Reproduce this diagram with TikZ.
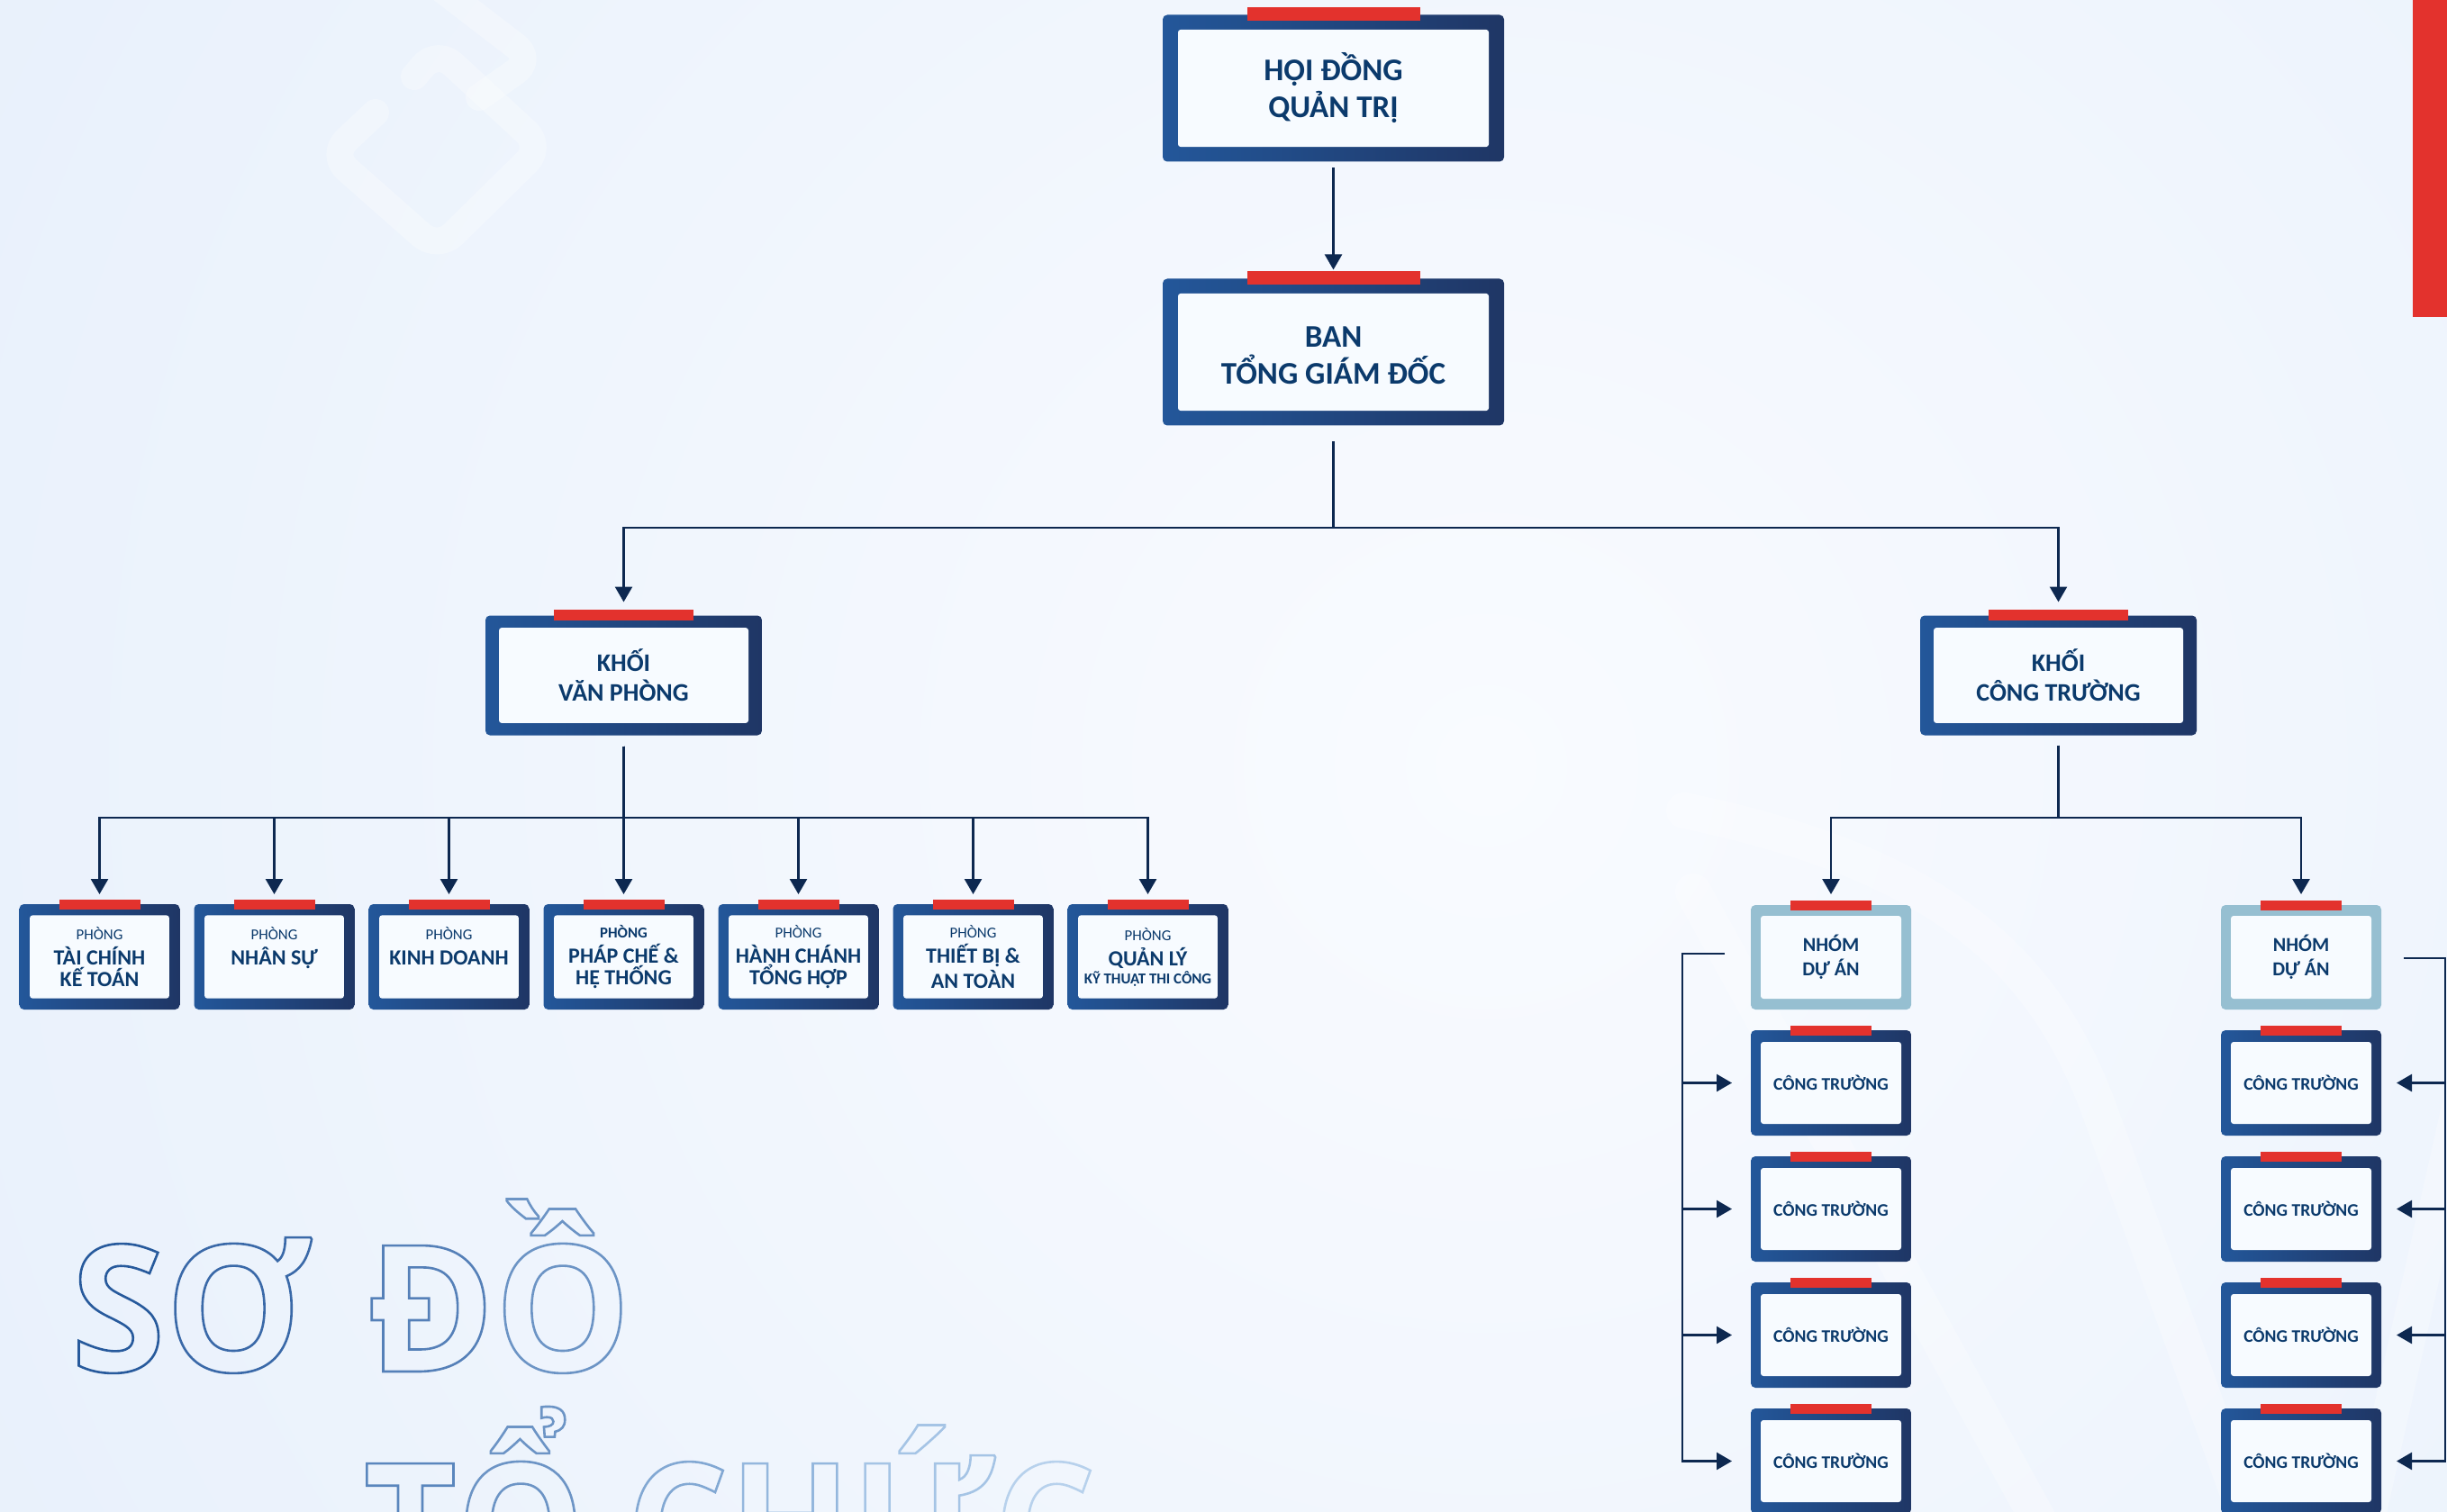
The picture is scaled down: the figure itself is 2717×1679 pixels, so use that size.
\documentclass[tikz,border=0pt]{standalone}
\usepackage{fontspec}
\setmainfont{Carlito}
\newfontfamily\wmfont{Open Sans}[FakeStretch=0.97]
\newfontfamily\wmfontn{Open Sans}[FakeStretch=0.91]
\usetikzlibrary{arrows.meta,positioning,calc}

\definecolor{navy}{HTML}{0B3A6C}
\definecolor{wirec}{HTML}{0D2850}
\definecolor{frameL}{HTML}{23579A}
\definecolor{frameR}{HTML}{1F3665}
\definecolor{frameLt}{HTML}{96BFD1}
\definecolor{panelw}{HTML}{F7FBFF}
\definecolor{barred}{HTML}{E3322D}
\definecolor{bgin}{HTML}{F9FBFF}
\definecolor{bgout}{HTML}{D9E7F8}
\definecolor{wmA}{HTML}{275A9C}
\definecolor{wmB}{HTML}{3A69A8}
\definecolor{wmC}{HTML}{5580B8}
\definecolor{wmD}{HTML}{6C94C5}
\definecolor{wmE}{HTML}{5A86BD}
\definecolor{wmF}{HTML}{6C94C5}
\definecolor{wmG}{HTML}{82A8D3}
\definecolor{wmH}{HTML}{94B7DD}
\definecolor{wmI}{HTML}{A5C4E5}
\definecolor{wmJ}{HTML}{B7D1EC}

\newcommand\phong{{\fontsize{4.2pt}{5pt}\selectfont\mdseries PHÒNG}}
\newcommand\outl[1]{\special{pdf:code 1 Tr 0.65 w}#1\special{pdf:code 0 Tr}}
\newcommand\redbar[4]{\fill[barred] ([xshift=-#2/2, yshift=#3]#1.north) rectangle ([xshift=#2/2, yshift=#3-#4]#1.north);}

\tikzset{
  line/.style  = {-{Triangle[length=4.25pt,width=4.75pt]}, line width=0.65pt, draw=wirec},
  glow/.style  = {draw=white, opacity=0.28, line cap=round, line join=round},
  panel/.style 2 args = {path picture={
      \fill[panelw, rounded corners=0.75pt]
        ([shift={(#1,-#2)}]path picture bounding box.north west) rectangle
        ([shift={(-#1,#2)}]path picture bounding box.south east);}},
  frame/.style   = {rounded corners=1.25pt, inner sep=0pt, outer sep=0pt, align=center, text=navy},
  box/.style     = {frame, left color=frameL, right color=frameR},
  bigbox/.style  = {box, minimum width=94.75pt, minimum height=40.75pt, panel={4.25pt}{4.1pt},
                    font=\fontsize{8.75pt}{10.25pt}\selectfont\bfseries},
  khoibox/.style = {box, minimum width=76.75pt, minimum height=33.25pt, panel={3.75pt}{3.4pt},
                    font=\fontsize{7pt}{8.25pt}\selectfont\bfseries},
  phongbox/.style= {box, minimum width=44.5pt, minimum height=29.25pt, panel={2.9pt}{3.1pt},
                    font=\fontsize{6pt}{6pt}\selectfont\bfseries},
  nhombox/.style = {frame, fill=frameLt, minimum width=44.5pt, minimum height=29pt, panel={2.75pt}{3pt},
                    font=\fontsize{5.5pt}{6.7pt}\selectfont\bfseries},
  ctbox/.style   = {box, minimum width=44.5pt, minimum height=29.25pt, panel={2.75pt}{3.25pt},
                    font=\fontsize{4.9pt}{6pt}\selectfont\bfseries},
  wm/.style      = {inner sep=0pt, anchor=base west, font=\wmfont\fontsize{49pt}{49pt}\selectfont\bfseries},
}

\begin{document}
\begin{tikzpicture}[x=0.25pt, y=-0.25pt]
  \useasboundingbox (0,0) rectangle (2717,1679);
  \begin{scope}
    \clip (0,0) rectangle (2717,1679);
    \shade[inner color=bgin, outer color=bgout] (1650,850) circle (3600);
    % faint logo marks
    \draw[glow, line width=7.5pt, rounded corners=6pt] (460,85) -- (485,55) -- (602,163) -- (486,277) -- (367,172) -- (417,125);
    \draw[glow, line width=7.5pt, rounded corners=6pt] (480,-20) -- (592,66) -- (532,108);
    \draw[glow, line width=10pt] (1870,900) .. controls (2160,960) and (2270,1070) .. (2330,1230) -- (2500,1700);
    \draw[glow, line width=10pt] (1880,990) -- (2270,1700);
    \draw[glow, line width=10pt] (2740,1190) -- (2625,1700);
    % title
    \node[wm] (wmso) at (78,1523) {\outl{{\color{wmA}S}{\color{wmB}Ơ}\hspace{17pt}{\color{wmC}Đ}{\color{wmD}Ồ}}};
    \node[wm, font=\wmfontn\fontsize{49pt}{49pt}\selectfont\bfseries] (wmto) at (403,1765)
      {\outl{{\color{wmE}T}{\color{wmF}Ổ} {\color{wmG}C}{\color{wmH}H}{\color{wmI}Ứ}{\color{wmJ}C}}};
  \end{scope}
  \fill[barred] (2679,0) rectangle (2717,352);

  % top levels
  \node[bigbox] (hdqt) at (1480.5,98) {HỘI ĐỒNG\\QUẢN TRỊ};
  \node[bigbox, below=32.5pt of hdqt] (btgd) {\vphantom{Ồ}BAN\\TỔNG GIÁM ĐỐC};
  \node[khoibox] (kvp) at (692.5,750) {KHỐI\\VĂN PHÒNG};
  \node[khoibox] (kct) at (2285.5,750) {KHỐI\\CÔNG TRƯỜNG};

  % phong ban
  \node[phongbox] (p1) at (110.5,1062.5) {\phong\\[1pt]TÀI CHÍNH\\KẾ TOÁN};
  \node[phongbox, right=4pt of p1] (p2) {\phong\\[1pt]NHÂN SỰ\\\mbox{}};
  \node[phongbox, right=4pt of p2] (p3) {\phong\\[1pt]KINH DOANH\\\mbox{}};
  \node[phongbox, right=4pt of p3] (p4) {{\fontsize{4.2pt}{5pt}\selectfont PHÒNG}\\[1pt]PHÁP CHẾ \&\\HỆ THỐNG};
  \node[phongbox, right=4pt of p4] (p5) {\phong\\[1pt]HÀNH CHÁNH\\TỔNG HỢP};
  \node[phongbox, right=4pt of p5] (p6) {\phong\\[1pt]THIẾT BỊ \&\\AN TOÀN};
  \node[phongbox, right=4pt of p6] (p7) {\phong\\[1pt]QUẢN LÝ\\[-1pt]{\fontsize{4.2pt}{5pt}\selectfont KỸ THUẬT THI CÔNG}};

  % nhom du an + cong truong
  \node[nhombox] (nda1) at (2033,1063) {NHÓM\\DỰ ÁN};
  \node[nhombox] (nda2) at (2555,1063) {NHÓM\\DỰ ÁN};
  \foreach \s/\n in {l/1,r/2}{
    \node[ctbox, below=5.75pt of nda\n] (ct\s1) {CÔNG TRƯỜNG};
    \foreach \r [count=\q] in {2,3,4}
      \node[ctbox, below=5.75pt of ct\s\q] (ct\s\r) {CÔNG TRƯỜNG};
  }

  % red tabs
  \foreach \n in {hdqt,btgd} \redbar{\n}{48pt}{2pt}{3.75pt};
  \foreach \n in {kvp,kct} \redbar{\n}{38.75pt}{1.75pt}{3pt};
  \foreach \i in {1,...,7} \redbar{p\i}{22.5pt}{1.25pt}{2.75pt};
  \foreach \n in {nda1,nda2,ctl1,ctl2,ctl3,ctl4,ctr1,ctr2,ctr3,ctr4} \redbar{\n}{22.5pt}{1.25pt}{2.75pt};

  % connectors
  \coordinate (split1) at (1480.5,586);
  \coordinate (split2) at (692.5,908);
  \coordinate (split3) at (2285.5,908);
  \draw[line, shorten <=1.75pt, shorten >=2.5pt] (hdqt) -- (btgd);
  \draw[line, shorten <=4.5pt, shorten >=3.75pt] (btgd.south) -- (split1) -| (kvp.north);
  \draw[line, shorten <=4.5pt, shorten >=3.75pt] (btgd.south) -- (split1) -| (kct.north);
  \foreach \i in {1,...,7}
    \draw[line, shorten <=3pt, shorten >=2.75pt] (kvp.south) -- (split2) -| (p\i.north);
  \foreach \i in {1,2}
    \draw[line, shorten <=2.75pt, shorten >=3pt] (kct.south) -- (split3) -| (nda\i.north);

  \coordinate (lstub) at (1915,1059);
  \coordinate (lbar) at (1868,1059);
  \coordinate (rstub) at (2669,1064);
  \coordinate (rbar) at (2715,1064);
  \draw[line, shorten >=5.25pt] (lstub) -- (lbar) |- (ctl4.west);
  \draw[line, shorten >=4.25pt] (rstub) -- (rbar) |- (ctr4.east);
  \foreach \r in {1,2,3}{
    \draw[line, shorten >=5.25pt] (lbar |- ctl\r.west) -- (ctl\r.west);
    \draw[line, shorten >=4.25pt] (rbar |- ctr\r.east) -- (ctr\r.east);
  }
\end{tikzpicture}
\end{document}
